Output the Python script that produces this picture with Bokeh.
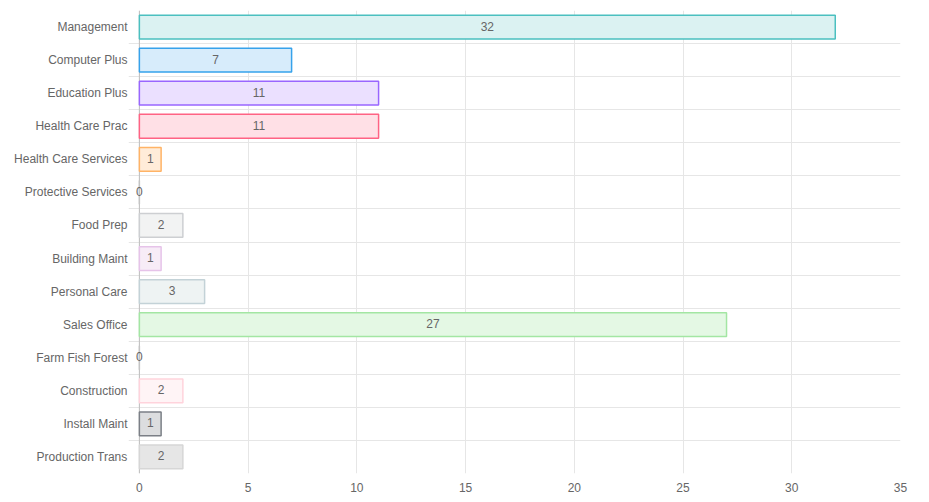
from bokeh.plotting import figure
from bokeh.models import ColumnDataSource, FactorRange, Range1d, FixedTicker, LabelSet, Span
from bokeh.core.properties import value
from bokeh.embed import file_html
from bokeh.resources import INLINE

categories = ["Management", "Computer Plus", "Education Plus", "Health Care Prac",
              "Health Care Services", "Protective Services", "Food Prep", "Building Maint",
              "Personal Care", "Sales Office", "Farm Fish Forest", "Construction",
              "Install Maint", "Production Trans"]
counts = [32, 7, 11, 11, 1, 0, 2, 1, 3, 27, 0, 2, 1, 2]
fill_colors = ["#dbf2f2", "#d7ecfb", "#ebe0ff", "#ffe0e6", "#ffecd9", "#fff5dd",
               "#f2f3f3", "#f7ecf7", "#eef3f3", "#e4f8e4", "#eeeeee", "#fff4f6",
               "#dcdddf", "#e6e6e6"]
line_colors = ["#4bc0c0", "#36a2eb", "#9966ff", "#ff6384", "#ffb366", "#c4c4c4",
               "#cdcfd2", "#e6c3e9", "#c3d2d7", "#a3e6a3", "#c4c4c4", "#ffd3dc",
               "#7b7f86", "#d6d6d6"]
x_ticks = [0, 5, 10, 15, 20, 25, 30, 35]

src = ColumnDataSource(dict(
    cat=categories, val=counts, mid=[v / 2 for v in counts],
    lab=[str(v) for v in counts], fill=fill_colors, line=line_colors))

p = figure(width=929, height=502, output_backend="svg", toolbar_location=None,
           y_range=FactorRange(*reversed(categories)), x_range=Range1d(-0.5, 35),
           min_border_left=128, min_border_right=29, min_border_top=10, min_border_bottom=29)
p.outline_line_color = None

p.xaxis.ticker = FixedTicker(ticks=x_ticks)
p.xgrid.ticker = FixedTicker(ticks=x_ticks)
p.xgrid.grid_line_color = "#e6e6e6"
p.ygrid.ticker = FixedTicker(ticks=list(range(15)))
p.ygrid.grid_line_color = "#e6e6e6"

p.add_layout(Span(location=0, dimension="height", line_color="#bdbdbd", line_width=1,
                  level="underlay"))

p.hbar(y="cat", right="val", left=0, height=0.72, source=src,
       fill_color="fill", line_color="line", line_width=1.5)

labels = LabelSet(x="mid", y="cat", text="lab", source=src, text_align="center",
                  text_baseline="middle", text_color="#666666", y_offset=1,
                  text_font=value("Liberation Sans"), text_font_size="12px")
p.add_layout(labels)

for ax in (p.xaxis[0], p.yaxis[0]):
    ax.major_label_text_font = "Liberation Sans"
    ax.major_label_text_font_size = "12px"
    ax.major_label_text_color = "#666666"
    ax.major_tick_out = 0
    ax.major_tick_in = 0
    ax.minor_tick_out = 0
    ax.minor_tick_in = 0

p.xaxis.axis_line_color = None
p.xaxis.major_label_standoff = 9
p.yaxis.axis_line_color = None
p.yaxis.major_label_standoff = 1

open("out.html", "w").write(file_html(p, INLINE))
